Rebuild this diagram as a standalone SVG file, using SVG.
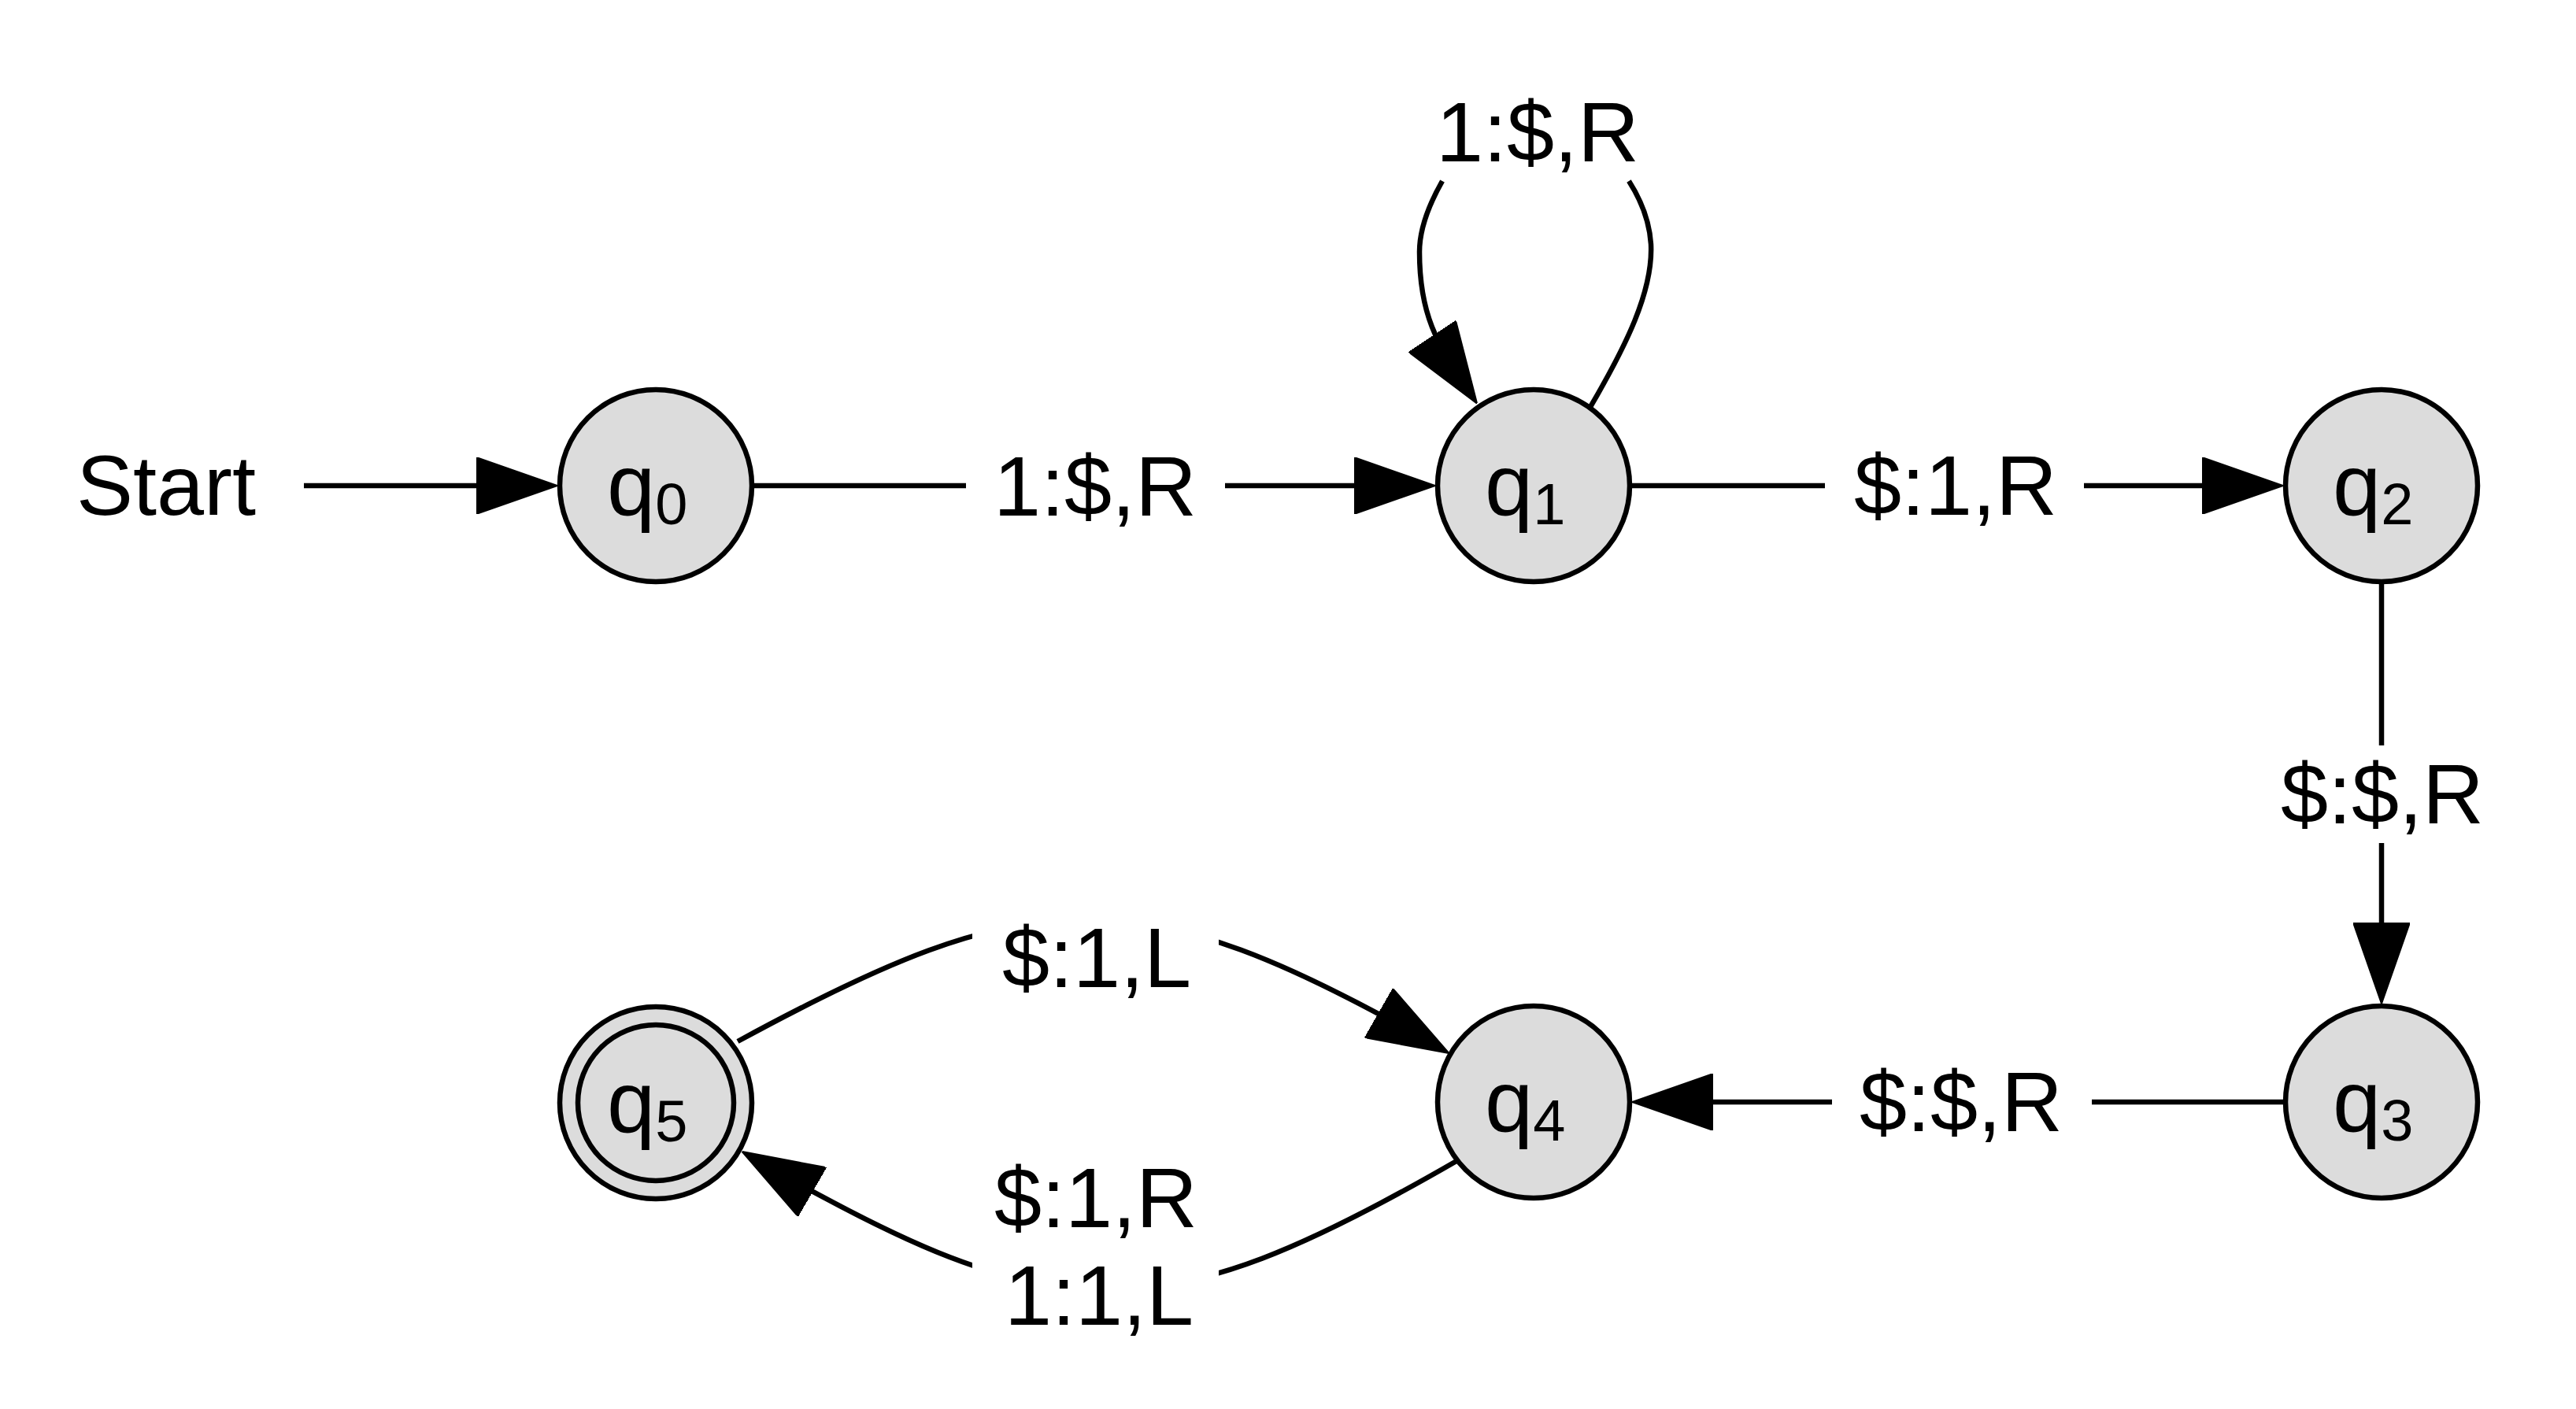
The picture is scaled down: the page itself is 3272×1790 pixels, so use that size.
<svg xmlns="http://www.w3.org/2000/svg" width="3272" height="1790" viewBox="0 0 3272 1790">
<style>
.node{fill:#dcdcdc;stroke:#000;stroke-width:6.5}
.edge{fill:none;stroke:#000;stroke-width:6.5}
.lbl{font-family:"Liberation Sans",Arial,sans-serif;font-size:108px;fill:#000}
.nl{font-family:"Liberation Sans",Arial,sans-serif;font-size:110px;fill:#000}
.sub{font-size:74px}
</style>
<defs>
<marker id="arrow" viewBox="0 0 103 72" refX="83" refY="36" markerWidth="103" markerHeight="72" markerUnits="userSpaceOnUse" orient="auto">
<path d="M0,0 L103,36 L0,72 z" fill="#000" stroke="#000" stroke-width="2" stroke-linejoin="round"/>
</marker>
<mask id="gaps" maskUnits="userSpaceOnUse" x="0" y="0" width="3272" height="1790">
<rect x="0" y="0" width="3272" height="1790" fill="#fff"/>
<rect x="1235" y="1080" width="313" height="200" fill="#000"/>
<rect x="1235" y="1540" width="313" height="200" fill="#000"/>
</mask>
</defs>
<rect width="3272" height="1790" fill="#fff"/>
<g id="connectors">
<path class="edge" d="M386,617 H688" marker-end="url(#arrow)"/>
<path class="edge" d="M958,617 H1227"/>
<path class="edge" d="M1556,617 H1803" marker-end="url(#arrow)"/>
<path class="edge" d="M2073,617 H2318"/>
<path class="edge" d="M2647,617 H2880" marker-end="url(#arrow)"/>
<path class="edge" d="M3025,742 V947"/>
<path class="edge" d="M3025,1071 V1255" marker-end="url(#arrow)"/>
<path class="edge" d="M2900,1400 H2657"/>
<path class="edge" d="M2327,1400 H2093" marker-end="url(#arrow)"/>
<path class="edge" d="M2020,517 C2065,440 2100,370 2097,310 C2095,280 2085,255 2069,230"/>
<path class="edge" d="M1832,230 C1815,260 1803,290 1803,320 C1803,400 1825,436 1865,496" marker-end="url(#arrow)"/>
<path class="edge" mask="url(#gaps)" d="M937,1323 C1310,1120 1442,1110 1823,1328" marker-end="url(#arrow)"/>
<path class="edge" mask="url(#gaps)" d="M1850,1475 C1469,1695 1341,1693 960,1473" marker-end="url(#arrow)"/>
</g>
<g id="edge-labels">
<text class="lbl" x="97" y="654" font-size="110">Start</text>
<text class="lbl" x="1391" y="655" text-anchor="middle">1:$,R</text>
<text class="lbl" x="1953" y="205" text-anchor="middle">1:$,R</text>
<text class="lbl" x="2484" y="654" text-anchor="middle">$:1,R</text>
<text class="lbl" x="3026" y="1046" text-anchor="middle">$:$,R</text>
<text class="lbl" x="2491" y="1437" text-anchor="middle">$:$,R</text>
<text class="lbl" x="1393" y="1254" text-anchor="middle">$:1,L</text>
<text class="lbl" x="1392" y="1559" text-anchor="middle">$:1,R</text>
<text class="lbl" x="1396" y="1683" text-anchor="middle">1:1,L</text>
</g>
<g id="q0"><circle class="node" cx="833" cy="617" r="122"/><text class="nl" x="771" y="654">q<tspan class="sub" dy="12">0</tspan></text></g>
<g id="q1"><circle class="node" cx="1948" cy="617" r="122"/><text class="nl" x="1886" y="654">q<tspan class="sub" dy="12">1</tspan></text></g>
<g id="q2"><circle class="node" cx="3025" cy="617" r="122"/><text class="nl" x="2963" y="654">q<tspan class="sub" dy="12">2</tspan></text></g>
<g id="q3"><circle class="node" cx="3025" cy="1400" r="122"/><text class="nl" x="2963" y="1437">q<tspan class="sub" dy="12">3</tspan></text></g>
<g id="q4"><circle class="node" cx="1948" cy="1400" r="122"/><text class="nl" x="1886" y="1437">q<tspan class="sub" dy="12">4</tspan></text></g>
<g id="q5"><circle class="node" cx="833" cy="1401" r="122"/><circle class="node" cx="833" cy="1401" r="99"/><text class="nl" x="771" y="1438">q<tspan class="sub" dy="12">5</tspan></text></g>
</svg>
